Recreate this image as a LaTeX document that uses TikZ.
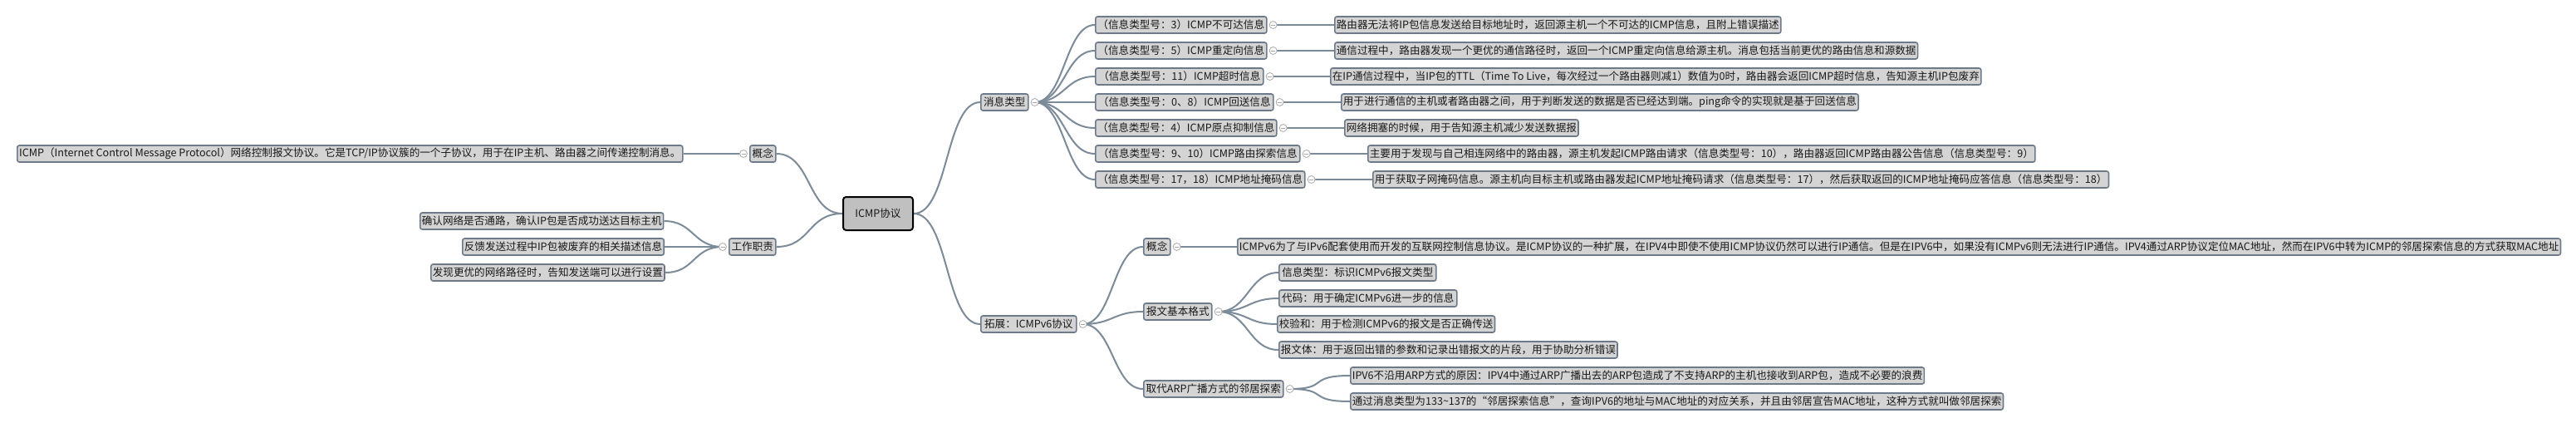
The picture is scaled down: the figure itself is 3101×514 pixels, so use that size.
\documentclass[tikz,border=0pt]{standalone}
\usepackage{fontspec}
\setmainfont{Noto Sans CJK SC}
\definecolor{boxf}{RGB}{212,212,212}
\definecolor{boxd}{RGB}{108,122,137}
\definecolor{linec}{RGB}{124,139,154}
\definecolor{rootf}{RGB}{192,192,192}
\definecolor{txt}{RGB}{25,25,25}
\definecolor{collc}{RGB}{170,170,170}
\pgfdeclarelayer{bg}\pgfdeclarelayer{edges}\pgfsetlayers{bg,edges,main}
\begin{document}
\begin{tikzpicture}[x=1pt,y=-1pt,
 box/.style={draw=boxd, fill=boxf, line width=1.6pt, rounded corners=2.5pt, minimum height=20pt, inner sep=2pt, font=\fontsize{12.6}{14}\selectfont, text=txt, anchor=west},
 rootbox/.style={draw=black, fill=rootf, line width=2pt, rounded corners=3.5pt, minimum height=40pt, minimum width=84pt, font=\fontsize{12.6}{15}\selectfont, text=txt},
 coll/.style={circle, draw=collc, fill=white, minimum size=9pt, inner sep=0pt, line width=0.8pt,
   path picture={\draw[collc, line width=0.8pt] ([xshift=-2.5pt]path picture bounding box.center) -- ([xshift=2.5pt]path picture bounding box.center);}},
 conn/.style={draw=linec, line width=2pt}]
\begin{pgfonlayer}{bg}
\fill[white] (0,0) rectangle (3101,514);
\end{pgfonlayer}
\useasboundingbox (0,0) rectangle (3101,514);

% root
\node[rootbox] (root) at (1057,257) {ICMP协议};

% left side
\node[box,minimum width=31pt] (lc) at (902,185) {概念};
\node[box,minimum width=801pt] (lcd) at (20,185) {ICMP（Internet Control Message Protocol）网络控制报文协议。它是TCP/IP协议簇的一个子协议，用于在IP主机、路由器之间传递控制消息。};
\node[box,minimum width=56pt] (wk) at (877,297) {工作职责};
\node[box,minimum width=292pt] (w1) at (505,266) {确认网络是否通路，确认IP包是否成功送达目标主机};
\node[box,minimum width=241pt] (w2) at (556,297) {反馈发送过程中IP包被废弃的相关描述信息};
\node[box,minimum width=279pt] (w3) at (518,328) {发现更优的网络路径时，告知发送端可以进行设置};
\node[coll] (clc) at ([xshift=-7pt]lc.west) {};
\node[coll] (cwk) at ([xshift=-7pt]wk.west) {};

% message types
\node[box,minimum width=57pt] (mt) at (1180,123) {消息类型};
\node[coll] (cmt) at ([xshift=7pt]mt.east) {};
\node[box,minimum width=206pt] (m1) at (1318,30) {（信息类型号：3）ICMP不可达信息};
\node[box,minimum width=206pt] (m2) at (1318,61) {（信息类型号：5）ICMP重定向信息};
\node[box,minimum width=202pt] (m3) at (1318,92) {（信息类型号：11）ICMP超时信息};
\node[box,minimum width=214pt] (m4) at (1318,123) {（信息类型号：0、8）ICMP回送信息};
\node[box,minimum width=218pt] (m5) at (1318,154) {（信息类型号：4）ICMP原点抑制信息};
\node[box,minimum width=246pt] (m6) at (1318,185) {（信息类型号：9、10）ICMP路由探索信息};
\node[box,minimum width=252pt] (m7) at (1318,216) {（信息类型号：17，18）ICMP地址掩码信息};
\foreach \i in {1,...,7}{\node[coll] (cm\i) at ([xshift=7pt]m\i.east) {};}

\node[box,minimum width=532pt] (d1) at (1606,30) {路由器无法将IP包信息发送给目标地址时，返回源主机一个不可达的ICMP信息，且附上错误描述};
\node[box,minimum width=694pt] (d2) at (1606,61) {通信过程中，路由器发现一个更优的通信路径时，返回一个ICMP重定向信息给源主机。消息包括当前更优的路由信息和源数据};
\node[box,minimum width=775pt] (d3) at (1601,92) {在IP通信过程中，当IP包的TTL（Time To Live，每次经过一个路由器则减1）数值为0时，路由器会返回ICMP超时信息，告知源主机IP包废弃};
\node[box,minimum width=614pt] (d4) at (1614,123) {用于进行通信的主机或者路由器之间，用于判断发送的数据是否已经达到端。ping命令的实现就是基于回送信息};
\node[box,minimum width=279pt] (d5) at (1618,154) {网络拥塞的时候，用于告知源主机减少发送数据报};
\node[box,minimum width=797pt] (d6) at (1646,185) {主要用于发现与自己相连网络中的路由器，源主机发起ICMP路由请求（信息类型号：10），路由器返回ICMP路由器公告信息（信息类型号：9）};
\node[box,minimum width=878pt] (d7) at (1652,216) {用于获取子网掩码信息。源主机向目标主机或路由器发起ICMP地址掩码请求（信息类型号：17），然后获取返回的ICMP地址掩码应答信息（信息类型号：18）};

% ICMPv6
\node[box,minimum width=115pt] (v6) at (1180,390) {拓展：ICMPv6协议};
\node[coll] (cv6) at ([xshift=7pt]v6.east) {};
\node[box,minimum width=32pt] (vc) at (1376,297) {概念};
\node[coll] (cvc) at ([xshift=7pt]vc.east) {};
\node[box,minimum width=1591pt] (vcd) at (1489,297) {ICMPv6为了与IPv6配套使用而开发的互联网控制信息协议。是ICMP协议的一种扩展，在IPV4中即使不使用ICMP协议仍然可以进行IP通信。但是在IPV6中，如果没有ICMPv6则无法进行IP通信。IPV4通过ARP协议定位MAC地址，然而在IPV6中转为ICMP的邻居探索信息的方式获取MAC地址};
\node[box,minimum width=82pt] (vf) at (1376,375) {报文基本格式};
\node[coll] (cvf) at ([xshift=7pt]vf.east) {};
\node[box,minimum width=189pt] (f1) at (1539,328) {信息类型：标识ICMPv6报文类型};
\node[box,minimum width=214pt] (f2) at (1539,359) {代码：用于确定ICMPv6进一步的信息};
\node[box,minimum width=252pt] (f3) at (1537,390) {校验和：用于检测ICMPv6的报文是否正确传送};
\node[box,minimum width=403pt] (f4) at (1539,421) {报文体：用于返回出错的参数和记录出错报文的片段，用于协助分析错误};
\node[box,minimum width=168pt] (va) at (1376,468) {取代ARP广播方式的邻居探索};
\node[coll] (cva) at ([xshift=7pt]va.east) {};
\node[box,minimum width=689pt] (a1) at (1625,452) {IPV6不沿用ARP方式的原因：IPV4中通过ARP广播出去的ARP包造成了不支持ARP的主机也接收到ARP包，造成不必要的浪费};
\node[box,minimum width=772pt] (a2) at (1625,483) {通过消息类型为133\textasciitilde137的“邻居探索信息”，查询IPV6的地址与MAC地址的对应关系，并且由邻居宣告MAC地址，这种方式就叫做邻居探索};

% connectors
\begin{pgfonlayer}{edges}
\draw[conn] (root.east) .. controls +(42,0) and +(-42,0) .. (mt.west);
\draw[conn] (root.east) .. controls +(42,0) and +(-42,0) .. (v6.west);
\draw[conn] (root.west) .. controls +(-42,0) and +(42,0) .. (lc.east);
\draw[conn] (root.west) .. controls +(-42,0) and +(42,0) .. (wk.east);
\draw[conn] (clc.center) -- (lcd.east);
\foreach \w in {w1,w2,w3}{\draw[conn] (cwk.center) .. controls +(-36,0) and +(36,0) .. (\w.east);}
\foreach \i in {1,...,7}{
  \draw[conn] (cmt.center) .. controls +(36,0) and +(-36,0) .. (m\i.west);
  \draw[conn] (cm\i.center) -- (d\i.west);}
\foreach \v in {vc,vf,va}{\draw[conn] (cv6.center) .. controls +(36,0) and +(-36,0) .. (\v.west);}
\draw[conn] (cvc.center) -- (vcd.west);
\foreach \f in {f1,f2,f3,f4}{\draw[conn] (cvf.center) .. controls +(36,0) and +(-36,0) .. (\f.west);}
\draw[conn] (cva.center) .. controls +(48,0) and +(-52,0) .. (a1.west);
\draw[conn] (cva.center) .. controls +(48,0) and +(-52,0) .. (a2.west);
\end{pgfonlayer}
\end{tikzpicture}
\end{document}
